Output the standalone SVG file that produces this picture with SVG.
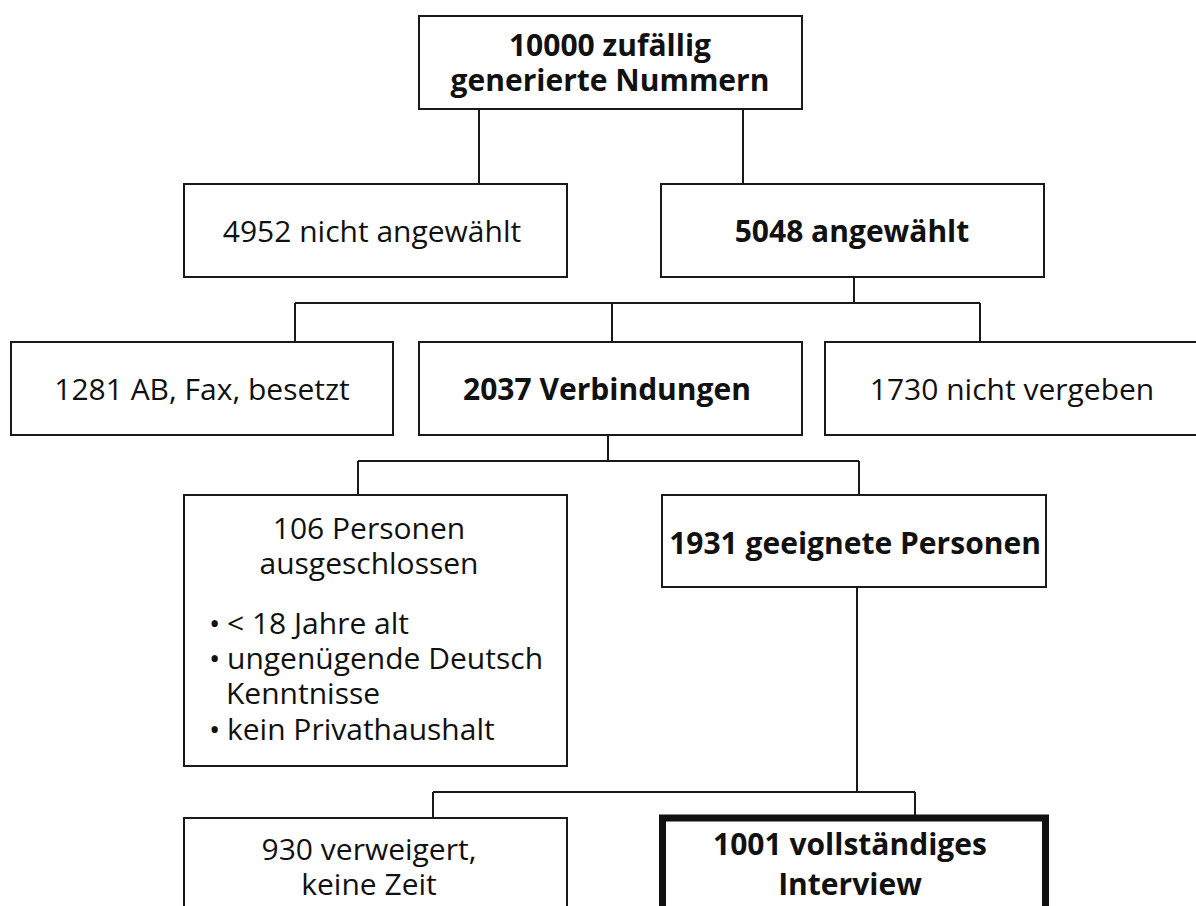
<svg xmlns="http://www.w3.org/2000/svg" width="1196" height="906" viewBox="0 0 1196 906">
<style>
.box{fill:#fff;stroke:#1a1a1a;stroke-width:2}
.thick{fill:#fff;stroke:#111;stroke-width:7}
.t{font-family:"Open Sans","Liberation Sans",sans-serif;font-size:30px;fill:#111}
.b{font-weight:bold}
.c{text-anchor:middle}
#connectors path{fill:none;stroke:#1a1a1a;stroke-width:2}
</style>
<rect width="1196" height="906" fill="#fff"/>
<g id="connectors">
<path d="M479 109V183M743 109V183"/>
<path d="M854 277V303M295 303H980M295 303V342M612 303V342M980 303V342"/>
<path d="M608 435V461M358 461H859M358 461V495M859 461V495"/>
<path d="M857 587V792M433 792H915M433 792V818M915 792V815"/>
</g>
<g id="n10000">
<rect class="box" x="419" y="16" width="383" height="93"/>
<text class="t b c"><tspan x="610" y="56">10000 zufällig</tspan><tspan x="610" y="91">generierte Nummern</tspan></text>
</g>
<g id="n4952">
<rect class="box" x="184" y="184" width="383" height="93"/>
<text class="t c" x="372" y="242">4952 nicht angewählt</text>
</g>
<g id="n5048">
<rect class="box" x="661" y="184" width="383" height="93"/>
<text class="t b c" x="852" y="242">5048 angewählt</text>
</g>
<g id="n1281">
<rect class="box" x="11" y="342" width="382" height="93"/>
<text class="t c" x="202" y="400">1281 AB, Fax, besetzt</text>
</g>
<g id="n2037">
<rect class="box" x="419" y="342" width="383" height="93"/>
<text class="t b c" x="607" y="400">2037 Verbindungen</text>
</g>
<g id="n1730">
<rect class="box" x="825" y="342" width="383" height="93"/>
<text class="t c" x="1012" y="400">1730 nicht vergeben</text>
</g>
<g id="n106">
<rect class="box" x="184" y="495" width="383" height="271"/>
<text class="t c"><tspan x="369" y="539">106 Personen</tspan><tspan x="369" y="574">ausgeschlossen</tspan></text>
<text class="t"><tspan x="209" y="634">• </tspan><tspan x="227">&lt; 18 Jahre alt</tspan><tspan x="209" y="669">• </tspan><tspan x="227">ungenügende Deutsch</tspan><tspan x="226" y="704">Kenntnisse</tspan><tspan x="209" y="740">• </tspan><tspan x="227">kein Privathaushalt</tspan></text>
</g>
<g id="n1931">
<rect class="box" x="662" y="495" width="384" height="92"/>
<text class="t b c" x="855" y="554">1931 geeignete Personen</text>
</g>
<g id="n930">
<rect class="box" x="184" y="818" width="383" height="120"/>
<text class="t c"><tspan x="369" y="860">930 verweigert,</tspan><tspan x="369" y="895">keine Zeit</tspan></text>
</g>
<g id="n1001">
<rect class="thick" x="662.5" y="818" width="383" height="120"/>
<text class="t b c"><tspan x="850" y="855">1001 vollständiges</tspan><tspan x="850" y="895">Interview</tspan></text>
</g>
</svg>
